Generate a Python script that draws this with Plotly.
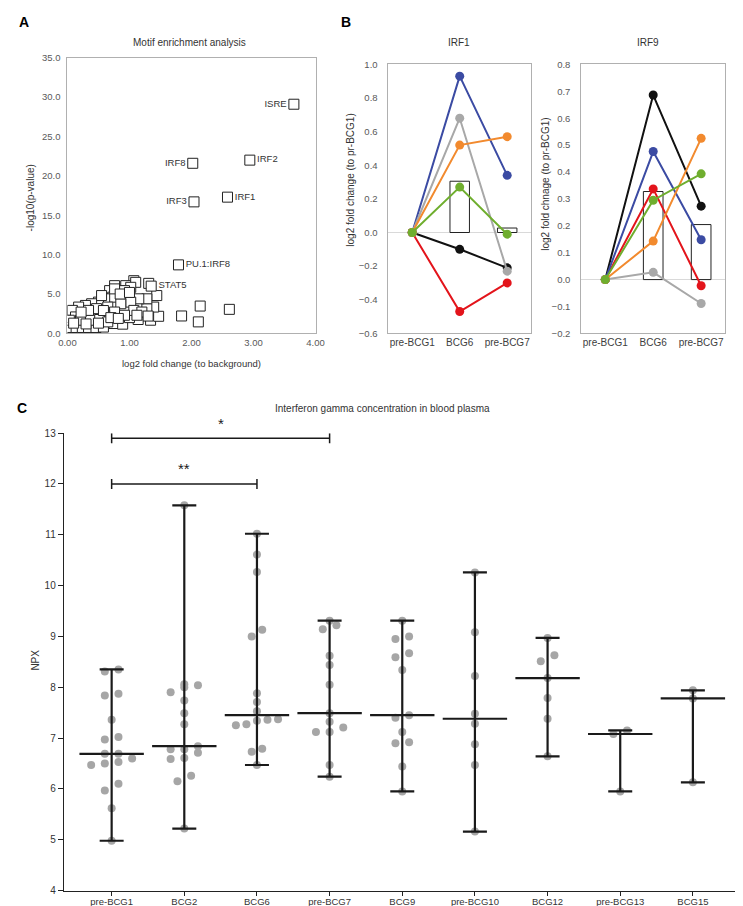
import numpy as np
import plotly.graph_objects as go

W, H = 743, 906
FONT = "Arial, Liberation Sans, sans-serif"

# ---------------- Panel A: motif enrichment ----------------
motif_names = ["ISRE", "IRF2", "IRF8", "IRF1", "IRF3", "PU.1:IRF8", "STAT5"]
motif_fc = [3.65, 2.94, 2.02, 2.58, 2.04, 1.79, 1.35]
motif_logp = [29.1, 22.0, 21.6, 17.3, 16.7, 8.7, 6.0]
motif_label_side = ["middle left", "middle right", "middle left", "middle right",
                    "middle left", "middle right", "middle right"]

other_fc = [0.03, 0.14, 0.24, 0.34, 0.46, 0.58, 0.75, 0.89, 1.14, 1.34, 1.47, 1.00,
            1.39, 1.28, 1.44, 1.28, 1.15, 1.07, 0.94, 0.84, 0.76, 0.68, 0.73, 0.92,
            1.02, 0.86, 0.60, 0.50, 0.39, 0.29, 0.18, 0.08, 0.65, 0.76, 1.07, 1.20,
            0.92, 0.60, 0.45, 0.29, 0.13, 0.03, 0.21, 0.37, 0.52, 0.65, 0.47, 0.34,
            1.31, 1.10, 1.02, 0.92, 0.76, 0.55, 0.85, 1.00, 0.22, 0.58, 0.70, 0.82,
            1.12, 1.30, 0.10, 0.30, 0.50, 2.11, 1.84, 2.14, 2.61]
other_logp = [0.75, 0.75, 0.75, 0.75, 0.75, 0.80, 1.25, 1.17, 1.76, 1.67, 2.17, 2.00,
              3.34, 3.14, 4.80, 4.39, 4.39, 6.69, 6.06, 5.43, 6.06, 5.43, 4.60, 4.80,
              3.97, 3.76, 4.39, 3.97, 3.76, 3.55, 3.34, 2.92, 3.34, 2.71, 2.92, 2.71,
              2.30, 2.30, 2.51, 2.30, 2.09, 1.67, 1.67, 1.67, 1.76, 1.46, 3.14, 2.92,
              6.35, 6.48, 5.85, 5.43, 5.65, 4.80, 5.00, 5.20, 2.70, 2.90, 2.00, 1.90,
              2.30, 2.20, 1.30, 1.20, 1.30, 1.46, 2.21, 3.47, 3.05]

# ---------------- Panel B: IRF1 / IRF9 fold change ----------------
timepoints = ["pre-BCG1", "BCG6", "pre-BCG7"]
donor_colors = ["#111111", "#e3141b", "#3b4ba3", "#a8a8a8", "#f28a2e", "#6fae2e"]
irf1_values = [
    [0, -0.10, -0.21],
    [0, -0.47, -0.30],
    [0, 0.93, 0.34],
    [0, 0.68, -0.23],
    [0, 0.52, 0.57],
    [0, 0.27, -0.01],
]
irf9_values = [
    [0, 0.686, 0.273],
    [0, 0.337, -0.023],
    [0, 0.476, 0.148],
    [0, 0.027, -0.089],
    [0, 0.143, 0.525],
    [0, 0.295, 0.393],
]

# ---------------- Panel C: IFN-gamma NPX ----------------
groups = ["pre-BCG1", "BCG2", "BCG6", "pre-BCG7", "BCG9",
          "pre-BCG10", "BCG12", "pre-BCG13", "BCG15"]
npx_pre_bcg1 = [8.35, 8.31, 7.87, 7.84, 7.36, 6.97, 7.02, 6.69, 6.60, 6.53,
                6.47, 6.69, 6.50, 6.10, 5.97, 5.62, 4.98]
npx_bcg2 = [11.58, 8.06, 8.04, 8.00, 7.90, 7.74, 7.49, 7.27, 6.71, 6.78,
            6.78, 6.84, 6.61, 6.59, 6.26, 6.15, 5.22]
npx_bcg6 = [11.02, 10.61, 10.27, 9.00, 9.13, 7.88, 7.71, 7.53, 7.37, 7.27,
            7.25, 7.34, 7.36, 6.73, 6.79, 6.47]
npx_pre_bcg7 = [9.31, 9.22, 9.14, 8.62, 8.44, 8.05, 7.49, 7.32, 7.12, 7.21,
                7.12, 6.47, 6.24]
npx_bcg9 = [9.31, 9.00, 8.95, 8.67, 8.59, 8.34, 7.45, 7.40, 7.12, 6.92,
            6.90, 6.44, 5.95]
npx_pre_bcg10 = [10.26, 9.08, 8.22, 7.48, 7.28, 6.88, 6.47, 5.16]
npx_bcg12 = [8.97, 8.63, 8.51, 8.18, 7.79, 7.38, 6.64]
npx_pre_bcg13 = [7.15, 7.08, 5.95]
npx_bcg15 = [7.94, 7.78, 6.13]
npx_groups = [npx_pre_bcg1, npx_bcg2, npx_bcg6, npx_pre_bcg7, npx_bcg9,
              npx_pre_bcg10, npx_bcg12, npx_pre_bcg13, npx_bcg15]

# significance comparisons: (group a, group b, label, bracket level)
comparisons = [(0, 3, "*", 12.9), (0, 2, "**", 12.0)]


def px_x(p):
    return p / W


def px_y(p):
    return 1 - p / H


def swarm_offsets(values, row_h=0.16, max_step=0.188, max_width=0.58):
    # simple prism-like scatter: bin values into rows, spread each row evenly
    vals = np.asarray(values, dtype=float)
    order = np.argsort(vals, kind="stable")
    rows = []
    for i in order:
        if rows and vals[i] - vals[rows[-1][0]] < row_h:
            rows[-1].append(i)
        else:
            rows.append([i])
    nmax = max(len(r) for r in rows)
    step = max_step if nmax < 2 else min(max_step, max_width / (nmax - 1))
    off = np.zeros(len(vals))
    for r in rows:
        n = len(r)
        for k, i in enumerate(r):
            off[i] = (k - (n - 1) / 2) * step
    return off


fig = go.Figure()

# ---- panel A traces
fig.add_trace(go.Scatter(
    x=other_fc, y=other_logp, mode="markers", xaxis="x", yaxis="y",
    marker=dict(symbol="square", size=10, color="white",
                line=dict(color="#222222", width=1)),
    hoverinfo="skip"))
fig.add_trace(go.Scatter(
    x=motif_fc, y=motif_logp, mode="markers+text", xaxis="x", yaxis="y",
    text=motif_names, textposition=motif_label_side,
    textfont=dict(size=9.5, color="#333333", family=FONT),
    marker=dict(symbol="square", size=10, color="white",
                line=dict(color="#222222", width=1))))

# ---- panel B traces
for vals, xa, ya in [(irf1_values, "x2", "y2"), (irf9_values, "x3", "y3")]:
    means = np.mean(np.array(vals), axis=0)
    fig.add_trace(go.Bar(
        x=timepoints[1:], y=means[1:], width=0.41, xaxis=xa, yaxis=ya,
        marker=dict(color="white", line=dict(color="#222222", width=1))))
    for donor, col in zip(vals, donor_colors):
        fig.add_trace(go.Scatter(
            x=timepoints, y=donor, mode="lines+markers", xaxis=xa, yaxis=ya,
            line=dict(color=col, width=2), marker=dict(color=col, size=9)))

# ---- panel C traces
for gi, vals in enumerate(npx_groups):
    off = swarm_offsets(vals)
    fig.add_trace(go.Scatter(
        x=gi + off, y=vals, mode="markers", xaxis="x4", yaxis="y4",
        marker=dict(color="#a6a6a6", size=8)))

medians = [float(np.median(v)) for v in npx_groups]
highs = [max(v) - m for v, m in zip(npx_groups, medians)]
lows = [m - min(v) for v, m in zip(npx_groups, medians)]
fig.add_trace(go.Scatter(
    x=list(range(len(groups))), y=medians, mode="markers", xaxis="x4", yaxis="y4",
    marker=dict(symbol="line-ew", size=46, color="#1a1a1a",
                line=dict(color="#1a1a1a", width=2.2)),
    error_y=dict(type="data", symmetric=False, array=highs, arrayminus=lows,
                 width=12, thickness=2.2, color="#1a1a1a")))

for a, b, label, level in comparisons:
    cap = 0.1
    lc = dict(color="#1a1a1a", width=1.5)
    fig.add_shape(type="line", xref="x4", yref="y4", x0=a, x1=b, y0=level, y1=level, line=lc)
    for xe in (a, b):
        fig.add_shape(type="line", xref="x4", yref="y4", x0=xe, x1=xe,
                      y0=level - cap, y1=level + cap, line=lc)
    fig.add_annotation(x=(a + b) / 2, y=level, xref="x4", yref="y4", text=label,
                       showarrow=False, yshift=15,
                       font=dict(size=15, color="#1a1a1a", family=FONT))


def note(text, x, y, size=10, color="#333333", angle=0, bold=False):
    fig.add_annotation(
        text=f"<b>{text}</b>" if bold else text, x=px_x(x), y=px_y(y),
        xref="paper", yref="paper", showarrow=False, textangle=angle,
        xanchor="center", yanchor="middle",
        font=dict(size=size, color=color, family=FONT))


note("A", 7, 8, size=14, color="black", bold=True)
note("B", 337, 8, size=14, color="black", bold=True)
note("C", 5.5, 399, size=14, color="black", bold=True)
note("Motif enrichment analysis", 177, 29, size=10)
note("-log10(p-value)", 14, 186, size=10, angle=-90)
note("log2 fold change (to background)", 179, 354, size=9.5)
note("IRF1", 453, 29, size=10)
note("IRF9", 647, 29, size=10)
note("log2 fold change (to pr-BCG1)", 342, 168, size=10, angle=-90)
note("log2 fold chnage (to pr-BCG1)", 542, 172, size=10, angle=-90)
note("Interferon gamma concentration in blood plasma", 375, 399, size=10)
note("NPX", 19, 654, size=10, angle=-90)

grey_tick = dict(size=9.5, color="#595959", family=FONT)
box = dict(showline=True, mirror=True, linecolor="#b0b0b0", linewidth=1,
           showgrid=False, ticks="")
cat_axis = dict(range=[-0.5, 2.5], type="category", categoryorder="array",
                categoryarray=timepoints,
                tickfont=dict(size=10, color="#404040", family=FONT))

fig.update_layout(
    width=W, height=H, margin=dict(l=0, r=0, t=0, b=0),
    paper_bgcolor="white", plot_bgcolor="white", showlegend=False,
    font=dict(family=FONT),
    xaxis=dict(domain=[px_x(51.7), px_x(306)], range=[0, 4], tickvals=[0, 1, 2, 3, 4],
               tickformat=".2f", zeroline=False, tickfont=grey_tick, anchor="y", **box),
    yaxis=dict(domain=[px_y(323.3), px_y(44.3)], range=[0, 35], dtick=5,
               tickformat=".1f", zeroline=False, tickfont=grey_tick, anchor="x",
               ticklabelstandoff=4, **box),
    xaxis2=dict(domain=[px_x(380.7), px_x(526.7)], anchor="y2", **cat_axis, **box),
    yaxis2=dict(domain=[px_y(323.3), px_y(51)], range=[-0.6, 1.0], dtick=0.2,
                tickformat=".1f", zeroline=True, zerolinecolor="#d9d9d9", zerolinewidth=1,
                tickfont=grey_tick, anchor="x2", ticklabelstandoff=8, **box),
    xaxis3=dict(domain=[px_x(578.3), px_x(725.7)], anchor="y3", **cat_axis, **box),
    yaxis3=dict(domain=[px_y(323.3), px_y(51)], range=[-0.2, 0.8], dtick=0.1,
                tickformat=".1f", zeroline=True, zerolinecolor="#d9d9d9", zerolinewidth=1,
                tickfont=grey_tick, anchor="x3", ticklabelstandoff=8, **box),
    xaxis4=dict(domain=[px_x(48), 1.0], range=[-0.658, 8.676],
                tickvals=list(range(len(groups))), ticktext=groups,
                showline=True, linecolor="#222222", linewidth=1.2, ticks="outside",
                ticklen=4, tickcolor="#222222", tickwidth=1.2, showgrid=False,
                zeroline=False, tickfont=dict(size=9.5, color="#333333", family=FONT),
                ticklabelstandoff=-2, anchor="y4"),
    yaxis4=dict(domain=[px_y(887.3), px_y(424.3)], range=[4, 13], dtick=1,
                showline=True, linecolor="#222222", linewidth=1.2, ticks="outside",
                ticklen=5, tickcolor="#222222", tickwidth=1.2, showgrid=False,
                zeroline=False, tickfont=dict(size=10, color="#333333", family=FONT),
                anchor="x4"),
)

fig.write_html("out.html")
